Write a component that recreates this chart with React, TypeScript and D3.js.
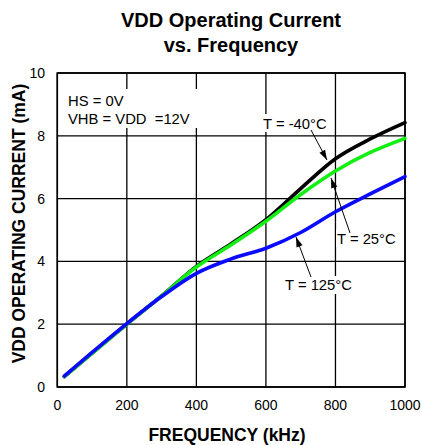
import React from "react";
import * as d3 from "d3";

const freqKHz = [20, 100, 200, 300, 400, 500, 600, 700, 800, 900, 1000];
const tempMinus40 = [0.33, 1.08, 2.0, 2.9, 3.84, 4.56, 5.33, 6.32, 7.27, 7.9, 8.42];
const temp25 = [0.33, 1.07, 2.0, 2.9, 3.82, 4.53, 5.28, 6.13, 6.88, 7.47, 7.92];
const temp125 = [0.35, 1.1, 2.02, 2.88, 3.62, 4.08, 4.42, 4.92, 5.58, 6.15, 6.7];
const xTicks = [0, 200, 400, 600, 800, 1000];
const yTicks = [0, 2, 4, 6, 8, 10];

const series = [
  { name: "T = -40°C", values: tempMinus40, color: "#000000" },
  { name: "T = 25°C", values: temp25, color: "#13ee13" },
  { name: "T = 125°C", values: temp125, color: "#0a0aff" },
];

const W = 422, H = 445;
const L = 57.3, R = 405, T = 73, B = 387;
const font = "'Liberation Sans', Arial, sans-serif";

export default function App() {
  const x = d3.scaleLinear().domain([0, 1000]).range([L, R]);
  const y = d3.scaleLinear().domain([0, 10]).range([B, T]);
  const line = d3
    .line<number>()
    .x((_, i) => x(freqKHz[i]))
    .y((d) => y(d))
    .curve(d3.curveMonotoneX);

  const arrows = [
    { x1: 311, y1: 130, x2: 327, y2: 160 },
    { x1: 350, y1: 233, x2: 331, y2: 178 },
    { x1: 311, y1: 277, x2: 296, y2: 237 },
  ];

  const head = (a: { x1: number; y1: number; x2: number; y2: number }) => {
    const ang = Math.atan2(a.y2 - a.y1, a.x2 - a.x1);
    const len = 10, wid = 3.2;
    const bx = a.x2 - len * Math.cos(ang), by = a.y2 - len * Math.sin(ang);
    const px = -Math.sin(ang) * wid, py = Math.cos(ang) * wid;
    return `M${a.x2},${a.y2}L${bx + px},${by + py}L${bx - px},${by - py}Z`;
  };

  return (
    <svg width={W} height={H} style={{ position: "absolute", left: 0, top: 0, background: "#fff" }} fontFamily={font}>
      <text x={231} y={27} textAnchor="middle" fontSize={20} fontWeight="bold">VDD Operating Current</text>
      <text x={231} y={52} textAnchor="middle" fontSize={20} fontWeight="bold">vs. Frequency</text>

      {xTicks.map((t) => (
        <line key={"gx" + t} x1={x(t)} x2={x(t)} y1={T} y2={B} stroke="#000" strokeWidth={1.3} />
      ))}
      {yTicks.map((t) => (
        <line key={"gy" + t} x1={L} x2={R} y1={y(t)} y2={y(t)} stroke="#000" strokeWidth={1.3} />
      ))}
      <rect x={L} y={T} width={R - L} height={B - T} fill="none" stroke="#000" strokeWidth={1.6} />

      <rect x={62} y={89} width={139} height={39} fill="#fff" />
      <text x={68} y={106} fontSize={14.8}>HS = 0V</text>
      <text x={68} y={123.5} fontSize={14.8} style={{ whiteSpace: "pre" }}>VHB = VDD  =12V</text>

      {series.map((s) => (
        <path key={s.name} d={line(s.values) || ""} fill="none" stroke={s.color} strokeWidth={3.6} strokeLinecap="round" />
      ))}

      <rect x={261} y={114} width={68} height={18} fill="#fff" />
      <text x={263} y={128.5} fontSize={14.8}>T = -40°C</text>
      <rect x={336} y={229} width={62} height={18} fill="#fff" />
      <text x={337} y={243.5} fontSize={14.8}>T = 25°C</text>
      <rect x={283} y={276} width={71} height={18} fill="#fff" />
      <text x={285} y={290} fontSize={14.8}>T = 125°C</text>

      {arrows.map((a, i) => (
        <g key={"a" + i}>
          <line x1={a.x1} y1={a.y1} x2={a.x2} y2={a.y2} stroke="#000" strokeWidth={1} />
          <path d={head(a)} fill="#000" />
        </g>
      ))}

      {xTicks.map((t) => (
        <text key={"xl" + t} x={x(t)} y={410} textAnchor="middle" fontSize={14}>{t}</text>
      ))}
      {yTicks.map((t) => (
        <text key={"yl" + t} x={45} y={y(t) + 5} textAnchor="end" fontSize={14}>{t}</text>
      ))}

      <text x={227} y={441} textAnchor="middle" fontSize={17.5} fontWeight="bold">FREQUENCY (kHz)</text>
      <text transform={`translate(25,${223.5}) rotate(-90)`} textAnchor="middle" fontSize={17.5} fontWeight="bold">VDD OPERATING CURRENT (mA)</text>
    </svg>
  );
}
